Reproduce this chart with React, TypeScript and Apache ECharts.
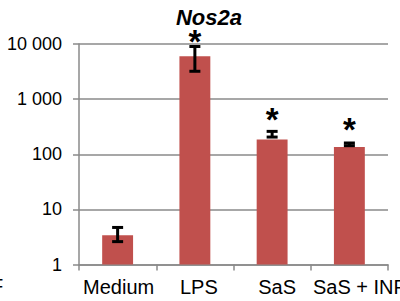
import React, { useEffect, useRef } from "react";
import * as echarts from "echarts";

const categories = ["Medium", "LPS", "SaS", "SaS + INF"];
const means = [3.4, 6000, 185, 135];
const errLow = [2.6, 3200, 205, 143];
const errHigh = [4.7, 9000, 260, 160];
const starAt: (number | null)[] = [null, 14900, 570, 375];
const yTicks = [1, 10, 100, 1000, 10000];
const title = "Nos2a";

const BAR_COLOR = "#C0504D";
const GRID_COLOR = "#8a8a8a";
const LABEL_SHIFT = [2, 8, 10, 20];

function fmt(v: number): string {
  const s = String(Math.round(v));
  return s.replace(/\B(?=(\d{3})+(?!\d))/g, " ");
}

export default function App() {
  const ref = useRef<HTMLDivElement>(null);
  useEffect(() => {
    if (!ref.current) return;
    const chart = echarts.init(ref.current, null, { renderer: "svg" });
    const errData = categories.map((_, i) => [i, errLow[i], errHigh[i], starAt[i] ?? -1]);
    const rich: Record<string, any> = {};
    LABEL_SHIFT.forEach((p, i) => {
      rich["s" + i] = { fontSize: 20, color: "#000", padding: [0, 0, 0, p], fontFamily: "Liberation Sans, Arial, sans-serif" };
    });
    chart.setOption({
      animation: false,
      textStyle: { fontFamily: "Liberation Sans, Arial, sans-serif" },
      title: {
        text: title,
        left: 204,
        top: 1,
        textAlign: "center",
        textStyle: { fontSize: 22, lineHeight: 22, fontWeight: "bold", fontStyle: "italic", color: "#000", fontFamily: "Liberation Sans, Arial, sans-serif" },
      },
      graphic: [
        { type: "text", left: -9, top: 276, style: { text: "F", font: "20px 'Liberation Sans', Arial", fill: "#000" } },
      ],
      grid: { left: 79, right: 12, top: 44, bottom: 36.5, containLabel: false, outerBoundsMode: "none" },
      xAxis: {
        type: "category",
        data: categories,
        boundaryGap: true,
        axisLine: { lineStyle: { color: GRID_COLOR, width: 1.5 } },
        axisTick: { show: true, length: 6, lineStyle: { color: GRID_COLOR, width: 1.5 } },
        axisLabel: {
          color: "#000",
          fontSize: 20,
          margin: 12,
          interval: 0,
          hideOverlap: false,
          fontFamily: "Liberation Sans, Arial, sans-serif",
          formatter: (v: string, idx: number) => `{s${idx}|${v}}`,
          rich,
        },
      },
      yAxis: {
        type: "log",
        logBase: 10,
        min: yTicks[0],
        max: yTicks[yTicks.length - 1],
        axisLine: { show: true, lineStyle: { color: GRID_COLOR, width: 1.5 } },
        axisTick: { show: true, length: 6, lineStyle: { color: GRID_COLOR, width: 1.5 } },
        splitLine: { show: true, lineStyle: { color: GRID_COLOR, width: 1.5 } },
        minorTick: { show: false },
        axisLabel: { color: "#000", fontSize: 18, margin: 17, formatter: (v: number) => fmt(v), fontFamily: "Liberation Sans, Arial, sans-serif" },
      },
      series: [
        {
          type: "bar",
          data: means,
          barCategoryGap: "60%",
          itemStyle: { color: BAR_COLOR },
          z: 2,
        },
        {
          type: "custom",
          data: errData,
          z: 5,
          renderItem: (params: any, api: any) => {
            const i = api.value(0);
            const lo = api.coord([i, api.value(1)]);
            const hi = api.coord([i, api.value(2)]);
            const capW = 11;
            const style = { stroke: "#000", lineWidth: 3 };
            const children: any[] = [
              { type: "line", shape: { x1: lo[0], y1: lo[1], x2: hi[0], y2: hi[1] }, style },
              { type: "line", shape: { x1: lo[0] - capW / 2, y1: lo[1], x2: lo[0] + capW / 2, y2: lo[1] }, style },
              { type: "line", shape: { x1: hi[0] - capW / 2, y1: hi[1], x2: hi[0] + capW / 2, y2: hi[1] }, style },
            ];
            const s = api.value(3);
            if (s > 0) {
              const p = api.coord([i, s]);
              children.push({
                type: "text",
                x: p[0],
                y: p[1] + 7,
                style: { text: "*", font: "bold 33px 'Liberation Sans', Arial", lineHeight: 14, fill: "#000", align: "center", verticalAlign: "middle" },
              });
            }
            return { type: "group", children };
          },
        },
      ],
    });
    return () => chart.dispose();
  }, []);
  return <div ref={ref} style={{ width: 400, height: 301, position: "absolute", left: 0, top: 0 }} />;
}
